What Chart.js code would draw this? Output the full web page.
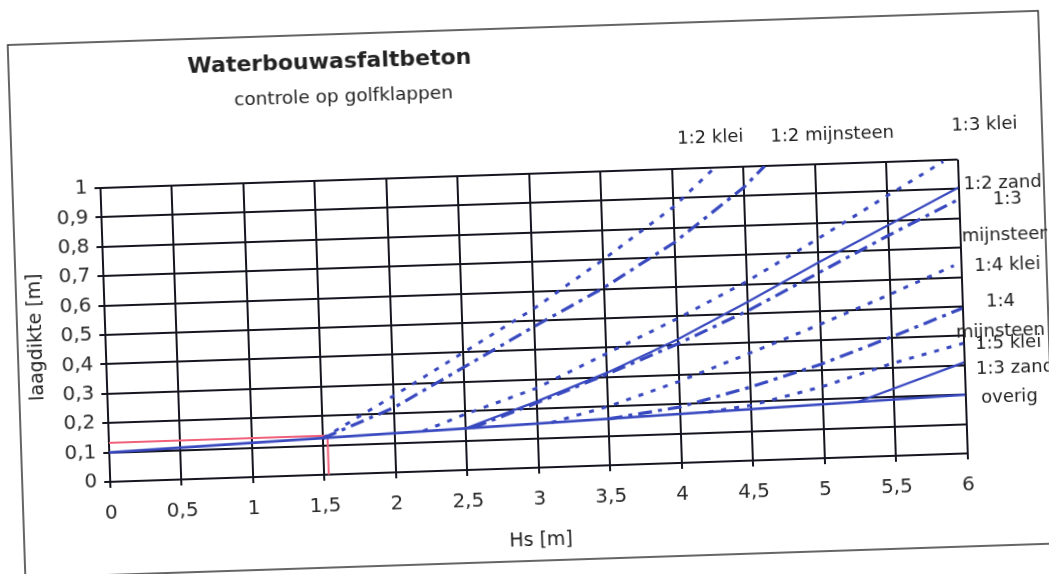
<!DOCTYPE html>
<html>
<head>
<meta charset="utf-8">
<script src="https://cdn.jsdelivr.net/npm/chart.js@4.4.1/dist/chart.umd.min.js"></script>
<style>
  html, body { margin: 0; padding: 0; background: #ffffff; overflow: hidden; }
  #wrap { position: absolute; left: 0; top: 0; width: 1049px; height: 574px; }
  #c { display: block; transform: rotate(-1.9deg); transform-origin: 50% 50%; }
</style>
</head>
<body>
<div id="wrap"><canvas id="c" width="1049" height="574"></canvas></div>
<script>
// ---- data (Hs [m] -> laagdikte [m]) ----
const xTicks = [0, 0.5, 1, 1.5, 2, 2.5, 3, 3.5, 4, 4.5, 5, 5.5, 6];
const yTicks = [0, 0.1, 0.2, 0.3, 0.4, 0.5, 0.6, 0.7, 0.8, 0.9, 1];

const hsOverig = [0, 6];
const dOverig  = [0.10, 0.20];

const hs12Klei = [1.5, 2, 2.5, 3, 3.5, 4, 4.3];
const d12Klei  = [0.125, 0.26, 0.40, 0.54, 0.70, 0.87, 1.0];

const hs12Mijn = [1.5, 2, 2.5, 3, 3.5, 4, 4.5, 4.65];
const d12Mijn  = [0.125, 0.22, 0.35, 0.48, 0.605, 0.75, 0.93, 1.0];

const hs13Klei = [2.2, 2.5, 3, 3.5, 4, 4.5, 5, 5.5, 5.9];
const d13Klei  = [0.137, 0.19, 0.27, 0.38, 0.49, 0.61, 0.745, 0.885, 0.995];

const hs12Zand = [2.5, 3, 3.5, 4, 4.5, 5, 5.5, 6];
const d12Zand  = [0.142, 0.225, 0.315, 0.42, 0.54, 0.665, 0.785, 0.905];

const hs13Mijn = [2.55, 3, 3.5, 4, 4.5, 5, 5.5, 6];
const d13Mijn  = [0.143, 0.22, 0.31, 0.405, 0.51, 0.63, 0.75, 0.865];

const hs14Klei = [3.1, 3.5, 4, 4.5, 5, 5.5, 5.95];
const d14Klei  = [0.152, 0.20, 0.277, 0.365, 0.455, 0.55, 0.64];

const hs14Mijn = [3.5, 4, 4.5, 5, 5.5, 6];
const d14Mijn  = [0.158, 0.19, 0.25, 0.32, 0.405, 0.494];

const hs15Klei = [4.2, 4.5, 5, 5.5, 6];
const d15Klei  = [0.17, 0.188, 0.243, 0.315, 0.375];

const hs13Zand = [5.25, 6];
const d13Zand  = [0.188, 0.31];

const hsRead = [0, 1.53, 1.53];
const dRead  = [0.133, 0.133, 0];

// ---- styling / placement (kept separate from the data) ----
const BLUE = '#3848bf';
const RED = '#f0607a';
const INK = '#15151f';
const FONT = "'DejaVu Sans', sans-serif";
const DOT = [5, 8];
const DASHDOT = [14, 6, 4, 6];

const seriesLabels = [
  { text: '1:2 klei',      hs: 4.276, d: 1.102 },
  { text: '1:2 mijnsteen', hs: 5.13,  d: 1.099 },
  { text: '1:3 klei',      hs: 6.196, d: 1.116 },
  { text: '1:2 zand',      hs: 6.31,  d: 0.915 },
  { text: '1:3',           hs: 6.34,  d: 0.861 },
  { text: 'mijnsteen',     hs: 6.324, d: 0.738 },
  { text: '1:4 klei',      hs: 6.324, d: 0.636 },
  { text: '1:4',           hs: 6.267, d: 0.511 },
  { text: 'mijnsteen',     hs: 6.26,  d: 0.409 },
  { text: '1:5 klei',      hs: 6.312, d: 0.371 },
  { text: '1:3 zand',      hs: 6.354, d: 0.286 },
  { text: 'overig',        hs: 6.308, d: 0.187 }
];

function pts(xs, ys) { return xs.map((x, i) => ({ x: x, y: ys[i] })); }
function ds(label, xs, ys, color, width, dash) {
  return { label: label, data: pts(xs, ys), borderColor: color, borderWidth: width,
           borderDash: dash, pointRadius: 0, fill: false, tension: 0, borderCapStyle: 'butt' };
}
const comma = v => String(Math.round(v * 10) / 10).replace('.', ',');

const decor = {
  id: 'decor',
  beforeDraw(chart) {
    const ctx = chart.ctx;
    ctx.save();
    ctx.fillStyle = '#ffffff';
    ctx.fillRect(0, 0, chart.width, chart.height);
    ctx.strokeStyle = '#333';
    ctx.lineWidth = 1.5;
    ctx.strokeRect(16, 28, 1031, 533);
    ctx.restore();
  },
  afterDraw(chart) {
    const ctx = chart.ctx;
    const xs = chart.scales.x, ys = chart.scales.y;
    const ca = chart.chartArea;
    ctx.save();
    ctx.fillStyle = '#222';
    ctx.textAlign = 'center';
    ctx.textBaseline = 'middle';
    ctx.font = "bold 22px " + FONT;
    ctx.fillText('Waterbouwasfaltbeton', ca.left + 233, ca.top - 118);
    ctx.font = "18.5px " + FONT;
    ctx.fillText('controle op golfklappen', ca.left + 246, ca.top - 83);
    ctx.font = "18px " + FONT;
    seriesLabels.forEach(l => {
      ctx.fillText(l.text, xs.getPixelForValue(l.hs), ys.getPixelForValue(l.d));
    });
    ctx.restore();
  }
};

new Chart(document.getElementById('c'), {
  type: 'line',
  data: {
    datasets: [
      ds('overig', hsOverig, dOverig, BLUE, 2.6, []),
      ds('1:2 klei', hs12Klei, d12Klei, BLUE, 3, DOT),
      ds('1:2 mijnsteen', hs12Mijn, d12Mijn, BLUE, 3.2, DASHDOT),
      ds('1:3 klei', hs13Klei, d13Klei, BLUE, 3, DOT),
      ds('1:2 zand', hs12Zand, d12Zand, BLUE, 2.2, []),
      ds('1:3 mijnsteen', hs13Mijn, d13Mijn, BLUE, 3.2, DASHDOT),
      ds('1:4 klei', hs14Klei, d14Klei, BLUE, 3, DOT),
      ds('1:4 mijnsteen', hs14Mijn, d14Mijn, BLUE, 3.2, DASHDOT),
      ds('1:5 klei', hs15Klei, d15Klei, BLUE, 3, DOT),
      ds('1:3 zand', hs13Zand, d13Zand, BLUE, 2.2, []),
      ds('aflezing', hsRead, dRead, RED, 2, [])
    ]
  },
  plugins: [decor],
  options: {
    responsive: false,
    animation: false,
    events: [],
    layout: { padding: { left: 0, right: 87.5, top: 174, bottom: 0 } },
    plugins: { legend: { display: false }, tooltip: { enabled: false }, title: { display: false } },
    scales: {
      x: {
        type: 'linear', min: 0, max: 6,
        afterFit: s => { s.height = 106; },
        afterBuildTicks: s => { s.ticks = xTicks.map(v => ({ value: v })); },
        ticks: { callback: comma, font: { family: FONT, size: 20 }, color: '#2a2a2a', padding: 14, maxRotation: 0, autoSkip: false },
        grid: { color: INK, lineWidth: 2, tickLength: 6, drawTicks: true },
        border: { color: INK, width: 2 },
        title: { display: true, text: 'Hs [m]', font: { family: FONT, size: 19 }, color: '#222', padding: { top: 0, bottom: 22 } }
      },
      y: {
        type: 'linear', min: 0, max: 1,
        afterFit: s => { s.width = 104; },
        afterBuildTicks: s => { s.ticks = yTicks.map(v => ({ value: v })); },
        ticks: { callback: comma, font: { family: FONT, size: 20 }, color: '#2a2a2a', padding: 7, autoSkip: false },
        grid: { color: INK, lineWidth: 2, tickLength: 6, drawTicks: true },
        border: { color: INK, width: 2 },
        title: { display: true, text: 'laagdikte [m]', font: { family: FONT, size: 19 }, color: '#222', padding: { top: 24, bottom: 0 } }
      }
    }
  }
});
</script>
</body>
</html>
